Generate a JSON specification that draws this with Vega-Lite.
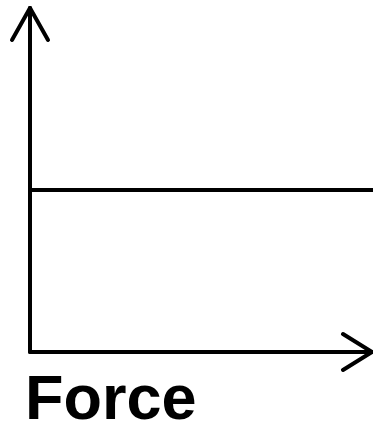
{
  "$schema": "https://vega.github.io/schema/vega-lite/v6.json",
  "width": 373,
  "height": 426,
  "padding": 0,
  "autosize": {"type": "none"},
  "background": "white",
  "config": {"view": {"stroke": null}},
  "layer": [
    {
      "data": {"values": [
        {"seg": "y axis", "x": 0, "y": 0, "x2": 0, "y2": 344},
        {"seg": "y arrow left", "x": 0, "y": 344, "x2": -18, "y2": 312},
        {"seg": "y arrow right", "x": 0, "y": 344, "x2": 18, "y2": 312},
        {"seg": "x axis", "x": 0, "y": 0, "x2": 342, "y2": 0},
        {"seg": "x arrow up", "x": 342, "y": 0, "x2": 313, "y2": 18},
        {"seg": "x arrow down", "x": 342, "y": 0, "x2": 313, "y2": -18},
        {"seg": "constant force", "x": 0, "y": 162, "x2": 345, "y2": 162}
      ]},
      "mark": {"type": "rule", "color": "black", "strokeWidth": 4, "strokeCap": "round"},
      "encoding": {
        "x": {"field": "x", "type": "quantitative", "scale": {"domain": [-30, 343]}, "axis": null},
        "y": {"field": "y", "type": "quantitative", "scale": {"domain": [-74, 352]}, "axis": null},
        "x2": {"field": "x2"},
        "y2": {"field": "y2"}
      }
    },
    {
      "data": {"values": [{"label": "Force", "x": -5, "y": -67}]},
      "mark": {"type": "text", "align": "left", "baseline": "alphabetic", "font": "Liberation Sans", "fontWeight": "bold", "fontSize": 63, "color": "black"},
      "encoding": {
        "x": {"field": "x", "type": "quantitative", "scale": {"domain": [-30, 343]}, "axis": null},
        "y": {"field": "y", "type": "quantitative", "scale": {"domain": [-74, 352]}, "axis": null},
        "text": {"field": "label"}
      }
    }
  ]
}
